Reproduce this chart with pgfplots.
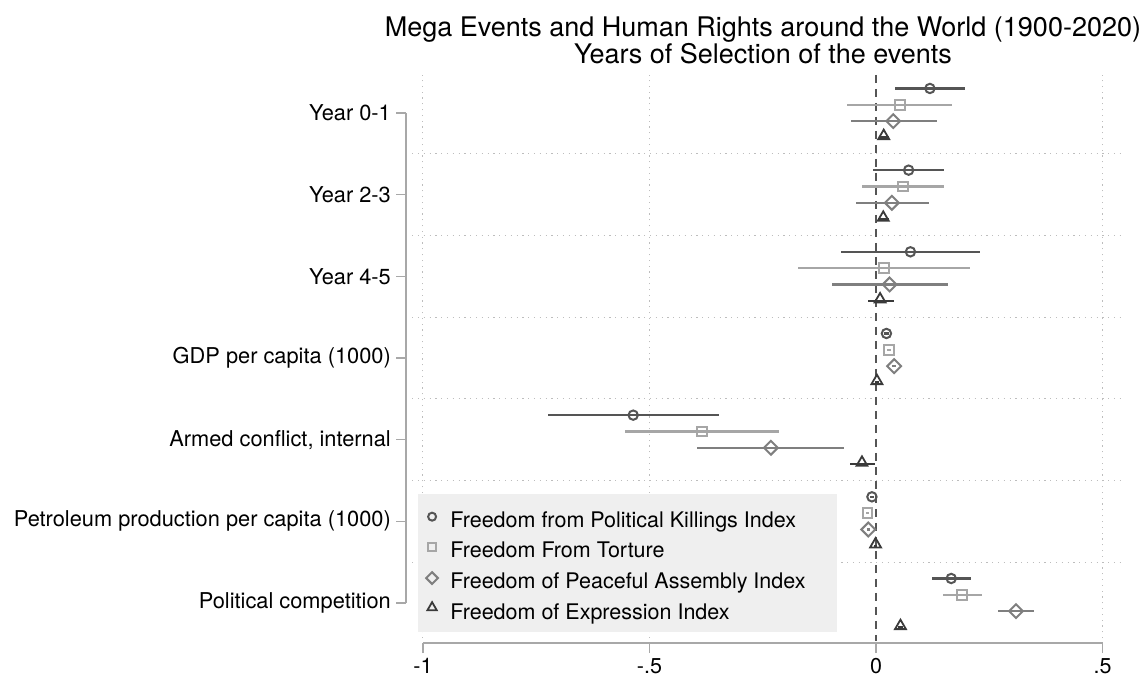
\documentclass[border=0pt]{standalone}
\usepackage{pgfplots}
\pgfplotsset{compat=1.18}
\usepackage{pgfplotstable}
\usepackage{fontspec}
\setmainfont{TeX Gyre Heros}

\definecolor{killc}{HTML}{555555}
\definecolor{tortc}{HTML}{A6A6A6}
\definecolor{assec}{HTML}{7F7F7F}
\definecolor{exprc}{HTML}{3A3A3A}
\definecolor{gridc}{HTML}{BDBDBD}
\definecolor{axisc}{HTML}{A8A8A8}
\definecolor{zeroc}{HTML}{555555}
\definecolor{legfill}{HTML}{EFEFEF}

\newcommand\lbl{\fontsize{21.5}{25}\selectfont}
\newcommand\ylbl{\fontsize{21.8}{25}\selectfont}
\newcommand\ttl{\fontsize{27}{25}\selectfont}

% coefficient estimates with 95% intervals; pos = row of the regressor (7 = top)
\pgfplotstableread{
pos b lo hi
7 0.119 0.042 0.196
6 0.072 -0.006 0.150
5 0.076 -0.077 0.230
4 0.023 0.018 0.028
3 -0.536 -0.725 -0.347
2 -0.009 -0.013 -0.005
1 0.166 0.124 0.209
}\killings
\pgfplotstableread{
pos b lo hi
7 0.053 -0.064 0.168
6 0.059 -0.032 0.150
5 0.017 -0.172 0.207
4 0.029 0.025 0.033
3 -0.384 -0.553 -0.215
2 -0.019 -0.023 -0.015
1 0.190 0.148 0.233
}\torture
\pgfplotstableread{
pos b lo hi
7 0.038 -0.056 0.134
6 0.035 -0.045 0.116
5 0.030 -0.098 0.159
4 0.040 0.036 0.044
3 -0.232 -0.395 -0.071
2 -0.017 -0.021 -0.013
1 0.309 0.270 0.348
}\assembly
\pgfplotstableread{
pos b lo hi
7 0.017 0.006 0.028
6 0.016 0.004 0.028
5 0.009 -0.018 0.039
4 0.002 -0.002 0.006
3 -0.031 -0.058 -0.003
2 -0.001 -0.004 0.002
1 0.054 0.048 0.060
}\expression

\begin{document}
\begin{tikzpicture}
\useasboundingbox (0pt,0pt) rectangle (1139pt,677pt);
\begin{axis}[
  at={(406pt,34pt)}, anchor=south west,
  scale only axis, width=714pt, height=568pt,
  xmin=-1.0375, xmax=0.5386, ymin=0.51, ymax=7.465,
  axis line style={draw=none},
  clip=false,
  xtick={-1,-0.5,0,0.5}, xticklabels={-1,-.5,0,.5},
  ytick={1,...,7},
  yticklabels={Political competition,Petroleum production per capita (1000),{Armed conflict, internal},GDP per capita (1000),Year 4-5,Year 2-3,Year 0-1},
  xtick pos=bottom, ytick pos=left,
  tick align=outside, major tick length=10pt,
  tick style={axisc, line width=1.5pt},
  xticklabel style={font=\lbl, inner sep=5pt},
  yticklabel style={font=\ylbl, inner sep=5pt},
  title={Mega Events and Human Rights around the World (1900-2020)\\Years of Selection of the events},
  title style={at={(0.5,1)}, anchor=base, yshift=5pt, align=center, font=\ttl, inner sep=0pt},
  legend style={at={(axis cs:-1.011,0.645)}, anchor=south west, fill=legfill, draw=none,
    font=\lbl, inner xsep=8pt, inner ysep=8pt, row sep=0.7pt, column sep=11pt,
    nodes={text height=24pt, text depth=3pt, inner sep=1.5pt}},
  legend cell align=left,
  legend image code/.code={\draw[#1, scale=0.85] plot coordinates {(0.25cm,0cm)};},
  error bars/error mark=none,
]
% reference lines and row separators
\foreach \gx in {-1,-0.5,0.5}{
  \edef\tmp{\noexpand\draw[gridc, line width=1pt, dash pattern=on 1.2pt off 4.6pt] (axis cs:\gx,0.57) -- (axis cs:\gx,7.465);}\tmp
}
\foreach \gy in {1.5,2.5,3.5,4.5,5.5,6.5}{
  \edef\tmp{\noexpand\draw[gridc, line width=1pt, dash pattern=on 1.2pt off 4.6pt] (axis cs:-1.024,\gy) -- (axis cs:0.5386,\gy);}\tmp
}
\draw[zeroc, line width=1.5pt, dash pattern=on 8pt off 6pt] (axis cs:0,7.465) -- (axis cs:0,0.54);
\draw[axisc, line width=1.5pt] (axis cs:-1,0.51) -- (axis cs:0.5,0.51);
\draw[axisc, line width=1.5pt] (axis cs:-1.0375,1) -- (axis cs:-1.0375,7);

\addplot[only marks, mark=o, mark size=4.7pt, killc, mark options={line width=2pt},
  error bars/.cd, x dir=both, x explicit, error bar style={line width=2.3pt, killc}]
  table[x=b, y expr=\thisrow{pos}+0.3, x error plus expr=\thisrow{hi}-\thisrow{b}, x error minus expr=\thisrow{b}-\thisrow{lo}] {\killings};
\addlegendentry{Freedom from Political Killings Index}
\addplot[only marks, mark=square, mark size=4.8pt, tortc, mark options={line width=2pt},
  error bars/.cd, x dir=both, x explicit, error bar style={line width=2.3pt, tortc}]
  table[x=b, y expr=\thisrow{pos}+0.1, x error plus expr=\thisrow{hi}-\thisrow{b}, x error minus expr=\thisrow{b}-\thisrow{lo}] {\torture};
\addlegendentry{Freedom From Torture}
\addplot[only marks, mark=square, mark size=4.9pt, assec, mark options={line width=2pt, rotate=45},
  error bars/.cd, x dir=both, x explicit, error bar style={line width=2.3pt, assec}]
  table[x=b, y expr=\thisrow{pos}-0.1, x error plus expr=\thisrow{hi}-\thisrow{b}, x error minus expr=\thisrow{b}-\thisrow{lo}] {\assembly};
\addlegendentry{Freedom of Peaceful Assembly Index\hspace*{22pt}}
\addplot[only marks, mark=triangle, mark size=6.3pt, exprc, mark options={line width=1.8pt, yshift=1.5pt},
  error bars/.cd, x dir=both, x explicit, error bar style={line width=2.3pt, exprc}]
  table[x=b, y expr=\thisrow{pos}-0.3, x error plus expr=\thisrow{hi}-\thisrow{b}, x error minus expr=\thisrow{b}-\thisrow{lo}] {\expression};
\addlegendentry{Freedom of Expression Index}
\end{axis}
\end{tikzpicture}
\end{document}
